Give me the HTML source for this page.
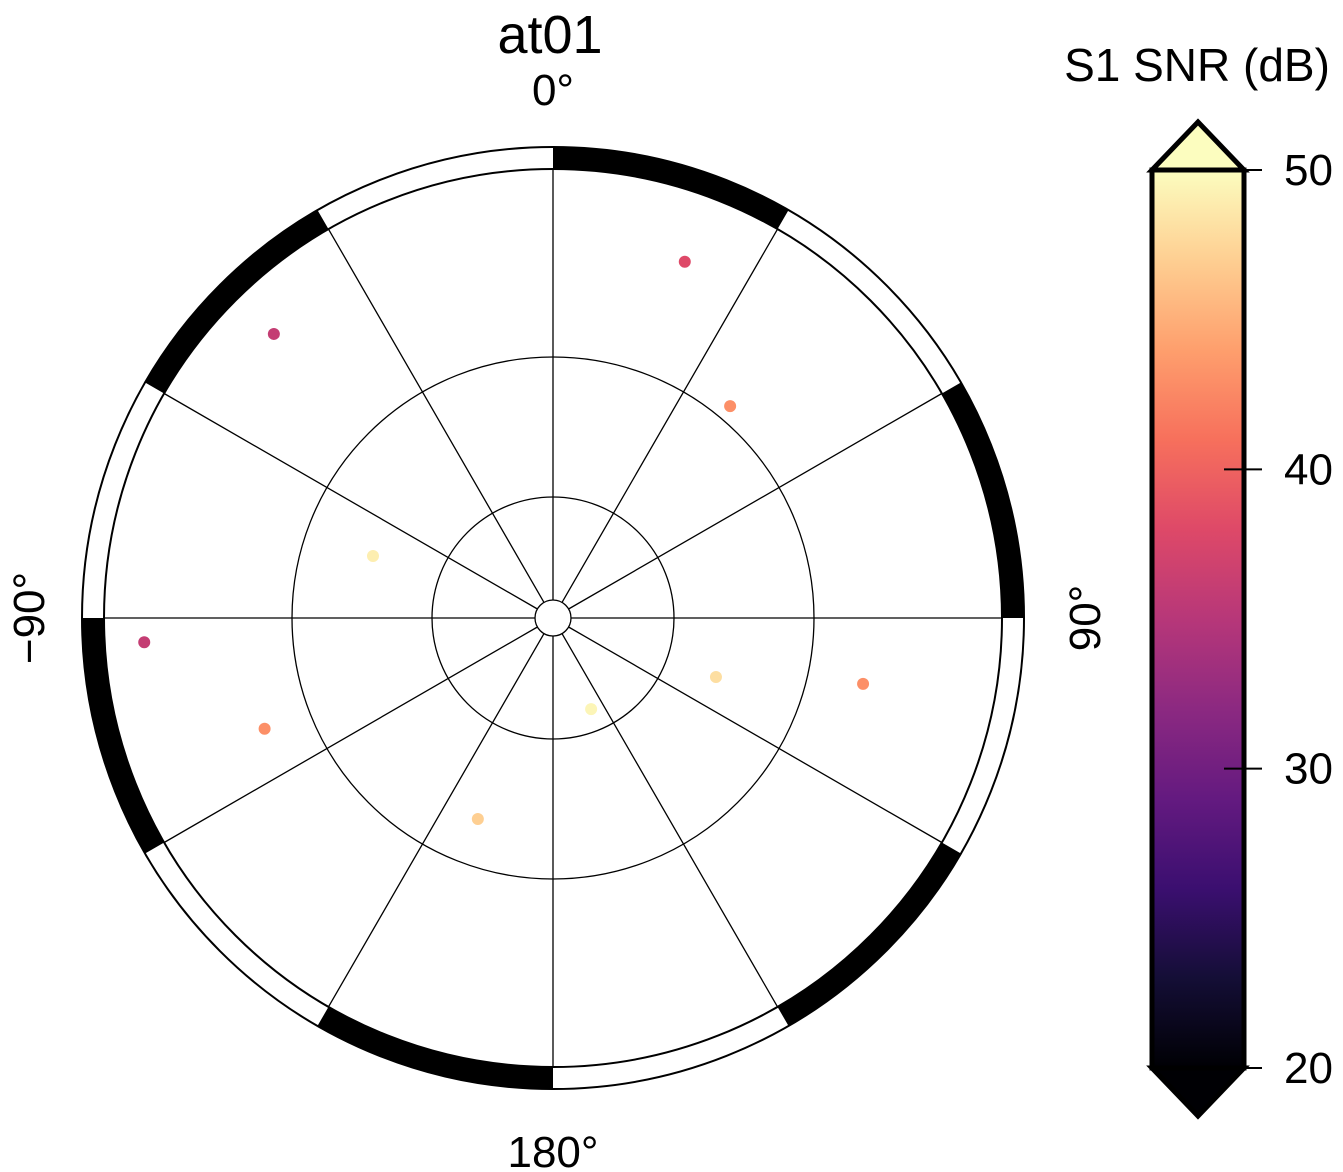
<!DOCTYPE html>
<html><head><meta charset="utf-8"><style>
body{margin:0;background:#fff;}
svg{display:block;font-family:"Liberation Sans",sans-serif;}
</style></head><body>
<svg id="chart" width="1343" height="1172" viewBox="0 0 1343 1172">
<defs>
<linearGradient id="magma" x1="0" y1="1" x2="0" y2="0">
<stop offset="0" stop-color="#000004"/><stop offset="0.1" stop-color="#140e36"/>
<stop offset="0.2" stop-color="#3b0f70"/><stop offset="0.3" stop-color="#641a80"/>
<stop offset="0.4" stop-color="#8c2981"/><stop offset="0.5" stop-color="#b73779"/>
<stop offset="0.6" stop-color="#de4968"/><stop offset="0.7" stop-color="#f7705c"/>
<stop offset="0.8" stop-color="#fe9f6d"/><stop offset="0.9" stop-color="#fecf92"/>
<stop offset="1" stop-color="#fcfdbf"/>
</linearGradient>
</defs>
<g id="frame"></g>
<g id="grid"></g>
<g id="points"></g>
<text x="550" y="53" font-size="54" text-anchor="middle">at01</text>
<text x="553" y="105" font-size="44" text-anchor="middle">0°</text>
<text x="553" y="1167" font-size="44" text-anchor="middle">180°</text>
<text transform="translate(44,618) rotate(-90)" font-size="44" text-anchor="middle">−90°</text>
<text transform="translate(1100,618) rotate(-90)" font-size="44" text-anchor="middle">90°</text>
<text x="1197" y="81" font-size="46" text-anchor="middle">S1 SNR (dB)</text>
<g id="cbar"></g>
</svg>
<script>
const azimuths=[20.3,39.9,315.5,289,266.6,249,200.5,157.3,109.9,102];
const radii=[0.846,0.615,0.887,0.424,0.912,0.688,0.478,0.22,0.386,0.706];
const snrValues=[38,43,36,49,36,43,47,49.5,48,43];
const cbarTicks=[20,30,40,50];
const NS="http://www.w3.org/2000/svg";
const cx=553,cy=618,R=449,RO=471;
const vmin=20,vmax=50;
function mk(t,a,p){const e=document.createElementNS(NS,t);for(const k in a)e.setAttribute(k,a[k]);p.appendChild(e);return e;}
function pt(az,r){const a=az*Math.PI/180;return [cx+r*Math.sin(a),cy-r*Math.cos(a)];}
const magma=["#000004","#140e36","#3b0f70","#641a80","#8c2981","#b73779","#de4968","#f7705c","#fe9f6d","#fecf92","#fcfdbf"];
function hex(h){return [1,3,5].map(i=>parseInt(h.substr(i,2),16));}
function cmap(v){let t=Math.max(0,Math.min(1,(v-vmin)/(vmax-vmin)))*10;const i=Math.min(9,Math.floor(t)),f=t-i;const a=hex(magma[i]),b=hex(magma[i+1]);return "rgb("+a.map((x,k)=>Math.round(x+(b[k]-x)*f)).join(",")+")";}
const fr=document.getElementById('frame');
mk('circle',{cx,cy,r:RO,fill:'none',stroke:'#000','stroke-width':2},fr);
mk('circle',{cx,cy,r:R,fill:'none',stroke:'#000','stroke-width':2},fr);
for(let s=0;s<360;s+=60){
 const [x1,y1]=pt(s,RO),[x2,y2]=pt(s+30,RO),[x3,y3]=pt(s+30,R),[x4,y4]=pt(s,R);
 const p=mk('path',{d:`M${x1},${y1} A${RO},${RO} 0 0 1 ${x2},${y2} L${x3},${y3} A${R},${R} 0 0 0 ${x4},${y4} Z`,fill:'#000'},fr);
 
 
}
const g=document.getElementById('grid');
[18,121,261].forEach(r=>{const c=mk('circle',{cx,cy,r,fill:'none',stroke:'#000','stroke-width':1.3},g);
 
 });
for(let a=0;a<360;a+=30){const [x1,y1]=pt(a,18),[x2,y2]=pt(a,R);
 const l=mk('line',{x1,y1,x2,y2,stroke:'#000','stroke-width':1.3},g);
 
 }
const pg=document.getElementById('points');
azimuths.forEach((az,i)=>{const [x,y]=pt(az,radii[i]*R);
 const c=mk('circle',{cx:x,cy:y,r:6,fill:cmap(snrValues[i])},pg);
 
 });
const cb=document.getElementById('cbar');
const bx=1152,bw=92,cbTop=170,cbBot=1068;
function yv(v){return cbBot-(v-vmin)/(vmax-vmin)*(cbBot-cbTop);}
mk('polygon',{points:`${bx},${cbTop} ${bx+bw/2},122 ${bx+bw},${cbTop}`,fill:cmap(vmax),stroke:'#000','stroke-width':5},cb);
mk('polygon',{points:`${bx},${cbBot} ${bx+bw/2},1116 ${bx+bw},${cbBot}`,fill:cmap(vmin),stroke:'#000','stroke-width':5},cb);
mk('rect',{x:bx,y:cbTop,width:bw,height:cbBot-cbTop,fill:'url(#magma)',stroke:'#000','stroke-width':5},cb);
cbarTicks.forEach(v=>{const y=yv(v);
 const l=mk('line',{x1:bx+bw-20,y1:y,x2:bx+bw+18,y2:y,stroke:'#000','stroke-width':2},cb);
 
 
 const t=mk('text',{x:1284,y:y+15,'font-size':44},cb);t.textContent=v;
 
 });
</script>
</body></html>
